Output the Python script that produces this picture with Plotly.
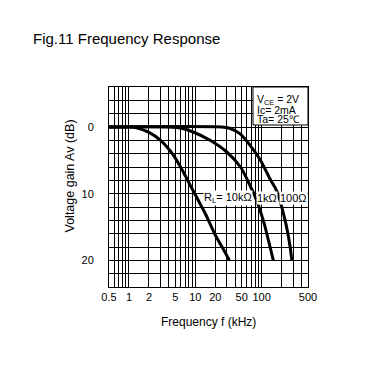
import math
import plotly.graph_objects as go

# ---- data ----
freq_10k = [0.5, 1.0, 1.3, 2.0, 3.0, 4.7, 6.6, 8.4, 11.8, 14.0, 20.0, 26.0, 32.6]
gain_10k = [0, 0, 0.1, 0.8, 2.0, 4.25, 6.75, 8.75, 11.5, 12.9, 16.2, 18.2, 20]

freq_1k = [0.5, 4.0, 6.0, 9.3, 16.7, 29.8, 48, 63, 80, 106, 134, 150]
gain_1k = [0, 0, 0.15, 0.75, 2.0, 3.75, 6.0, 8.25, 10.5, 14, 18, 20]

freq_100 = [0.5, 25, 32, 47, 67, 95, 134, 169, 226, 269, 285]
gain_100 = [0, 0, 0.15, 1.0, 2.75, 4.9, 7.8, 9.6, 14, 18, 20]

x_tick_vals = [0.5, 1, 2, 5, 10, 20, 50, 100, 500]
x_tick_text = ["0.5", "1", "2", "5", "10", "20", "50", "100", "500"]
x_grid_vals = ([0.6, 0.7, 0.8, 0.9] + [d for d in range(1, 10)] +
               [10 * d for d in range(1, 10)] + [100 * d for d in range(1, 6)])
y_tick_vals = [0, 10, 20]
y_tick_text = ["0", "10", "20"]

conditions = ["V<sub>CE</sub> = 2V", "Ic= 2mA", "Ta= 25\u2103"]
curve_labels = ["R<sub>L</sub>= 10k\u03a9", "1k\u03a9", "100\u03a9"]

FONT = "Liberation Sans, Arial, Helvetica, sans-serif"
OFF = 8  # page body margin

fig = go.Figure()
for fx, gy in [(freq_10k, gain_10k), (freq_1k, gain_1k), (freq_100, gain_100)]:
    fig.add_trace(go.Scatter(x=fx, y=gy, mode="lines",
                             line=dict(color="black", width=3, shape="spline", smoothing=0.8),
                             hoverinfo="skip"))

W, H = 386 - OFF, 368 - OFF
fig.update_layout(
    width=W, height=H,
    margin=dict(l=109 - OFF, r=78, t=87 - OFF, b=81),
    paper_bgcolor="white", plot_bgcolor="white",
    showlegend=False,
    font=dict(family=FONT, color="black", size=11),
    title=dict(text="Fig.11 Frequency Response", font=dict(size=15, color="black", family=FONT),
               x=(33 - OFF) / W, xanchor="left", xref="container",
               y=1 - (39 - OFF) / H, yanchor="middle", yref="container"),
)

fig.update_xaxes(
    type="log", range=[math.log10(0.5), math.log10(500)],
    tickvals=x_tick_vals, ticktext=x_tick_text, ticks="",
    showgrid=True, gridcolor="black", gridwidth=1,
    showline=True, linecolor="black", linewidth=1, mirror=True,
    zeroline=False, tickfont=dict(size=11),
    minor=dict(tickvals=x_grid_vals, showgrid=True, gridcolor="black", gridwidth=1, ticks=""),
)
fig.update_yaxes(
    range=[24, -6],
    tickvals=y_tick_vals, ticktext=y_tick_text, ticks="",
    ticklabelstandoff=12,
    showgrid=True, gridcolor="black", gridwidth=1,
    showline=True, linecolor="black", linewidth=1, mirror=True,
    zeroline=False, tickfont=dict(size=11),
    minor=dict(dtick=2, tick0=0, showgrid=True, gridcolor="black", gridwidth=1, ticks=""),
)

# condition box
box_x0 = (253 - 109) / 199
fig.add_shape(type="rect", xref="paper", yref="paper", x0=box_x0, x1=1, y0=(287 - 125) / 200, y1=1,
              fillcolor="white", line=dict(color="black", width=1), layer="above")
for i, t in enumerate(conditions):
    fig.add_annotation(text=t, xref="paper", yref="paper", x=box_x0, xshift=2, xanchor="left",
                       y=(287 - (100.3 + 9.3 * i)) / 200, yanchor="middle", showarrow=False,
                       font=dict(size=10.5, family=FONT, color="black"))

# curve labels
label_pos = [((203 - 109) / 199, "left"), ((266.5 - 109) / 199, "center"), ((293.5 - 109) / 199, "center")]
for t, (lx, anc) in zip(curve_labels, label_pos):
    fig.add_annotation(text=t, xref="paper", yref="paper", x=lx, xanchor=anc,
                       y=(287 - 198) / 200, yanchor="middle", showarrow=False,
                       bgcolor="white", borderpad=0,
                       font=dict(size=11, family=FONT, color="black"))

# axis titles
fig.add_annotation(text="Frequency f (kHz)", xref="paper", yref="paper", x=0.5, xanchor="center",
                   y=(287 - 322) / 200, yanchor="middle", showarrow=False,
                   font=dict(size=12, family=FONT, color="black"))
fig.add_annotation(text="Voltage gain Av (dB)", xref="paper", yref="paper", x=(69.5 - 109) / 199,
                   xanchor="center", y=(287 - 176) / 200, yanchor="middle", textangle=-90,
                   showarrow=False, font=dict(size=12.5, family=FONT, color="black"))

fig.write_html("out.html")
